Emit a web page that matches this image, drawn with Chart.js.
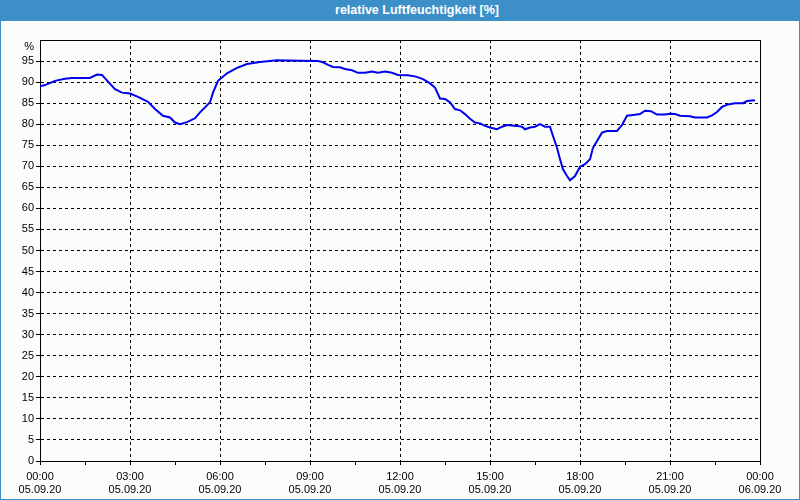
<!DOCTYPE html>
<html>
<head>
<meta charset="utf-8">
<script src="https://cdn.jsdelivr.net/npm/chart.js@4/dist/chart.umd.min.js"></script>
<style>
  html, body { margin:0; padding:0; }
  body { width:800px; height:500px; background:#fbfdfb; position:relative; overflow:hidden;
         font-family:"Liberation Sans", Arial, sans-serif; }
  #wrap { position:absolute; left:0; top:0; width:800px; height:500px; }
  #bar { position:absolute; left:0; top:0; width:800px; height:21px; background:#3d8fc7;
         color:#fff; font-weight:bold; font-size:12.5px; line-height:21px; }
  #bar span { position:absolute; left:417px; transform:translateX(-50%); white-space:nowrap; }
  #frame { position:absolute; left:0; top:0; width:798px; height:498px;
           border:1px solid #3d8fc7; pointer-events:none; }
</style>
</head>
<body>
<div id="wrap"><canvas id="chart"></canvas></div>
<div id="bar"><span>relative Luftfeuchtigkeit [%]</span></div>
<div id="frame"></div>
<script>
/* Daten: Minuten seit 05.09.20 00:00 und rel. Feuchte in % */
const minutes = [
  0, 10, 30, 50, 64, 100, 114, 124, 136, 150, 164, 180, 196, 216, 230, 246,
  260, 270, 280, 294, 310, 320, 330, 340, 346, 356, 374, 394, 414, 440, 474, 520,
  556, 566, 576, 586, 600, 610, 624, 636, 650, 664, 676, 690, 704, 716, 736, 752,
  766, 780, 790, 800, 810, 820, 830, 840, 850, 860, 870, 880, 890, 900, 914, 924,
  934, 954, 964, 970, 980, 990, 1000, 1010, 1020, 1026, 1034, 1040, 1046, 1054, 1060, 1070,
  1080, 1090, 1100, 1106, 1114, 1124, 1134, 1154, 1164, 1174, 1186, 1200, 1210, 1222, 1234, 1250,
  1260, 1270, 1280, 1300, 1310, 1334, 1344, 1354, 1364, 1376, 1390, 1406, 1414, 1430
];
const humidity = [
  89.0, 89.3, 90.3, 90.8, 91.0, 91.0, 91.8, 91.7, 90.1, 88.3, 87.5, 87.3, 86.5, 85.3, 83.6, 82.0,
  81.6, 80.4, 80.0, 80.5, 81.4, 82.8, 84.0, 85.2, 87.5, 90.3, 92.1, 93.4, 94.3, 94.8, 95.2, 95.1,
  95.0, 94.7, 94.1, 93.6, 93.5, 93.1, 92.8, 92.2, 92.2, 92.5, 92.2, 92.5, 92.2, 91.7, 91.6, 91.3,
  90.7, 89.7, 88.7, 86.1, 86.0, 85.2, 83.6, 83.3, 82.4, 81.3, 80.4, 80.2, 79.6, 79.2, 78.8, 79.4,
  79.8, 79.6, 79.4, 78.8, 79.2, 79.4, 80.0, 79.4, 79.4, 77.2, 74.4, 71.7, 69.3, 67.7, 66.7, 67.7,
  69.9, 70.5, 71.7, 74.4, 76.0, 78.0, 78.4, 78.4, 79.8, 82.0, 82.2, 82.4, 83.2, 83.1, 82.3, 82.3,
  82.5, 82.4, 82.0, 81.9, 81.6, 81.6, 82.1, 82.9, 84.1, 84.7, 85.0, 85.0, 85.5, 85.7
];

/* Achsenbeschriftung */
const tickTimes = ["00:00","03:00","06:00","09:00","12:00","15:00","18:00","21:00","00:00"];
const tickDates = ["05.09.20","05.09.20","05.09.20","05.09.20","05.09.20","05.09.20","05.09.20","05.09.20","06.09.20"];
const yUnit = "%";

Chart.defaults.font.family = '"Liberation Sans", Arial, sans-serif';
Chart.defaults.font.size = 11;
Chart.defaults.color = '#000';

// Rahmen um die Zeichenfläche
const frame = {
  id: 'frame',
  beforeDatasetsDraw(chart){
    const {ctx, chartArea:a} = chart;
    ctx.save();
    ctx.strokeStyle = '#000';
    ctx.lineWidth = 1;
    ctx.strokeRect(Math.round(a.left)+0.5, Math.round(a.top)+0.5,
                   Math.round(a.right-a.left), Math.round(a.bottom-a.top));
    ctx.restore();
  }
};

new Chart(document.getElementById('chart'), {
  type: 'line',
  data: {
    datasets: [{
      data: minutes.map((m,i) => ({x:m, y:humidity[i]})),
      borderColor: '#0000ee',
      borderWidth: 2,
      pointRadius: 0,
      tension: 0,
      fill: false
    }]
  },
  options: {
    responsive: true,
    maintainAspectRatio: false,
    animation: false,
    events: [],
    layout: { padding: { top:40, right:40, left:0, bottom:0 } },
    plugins: { legend:{display:false}, tooltip:{enabled:false}, title:{display:false} },
    scales: {
      x: {
        type: 'linear',
        min: 0, max: 1440,
        afterFit: s => { s.height = 39; },
        ticks: {
          stepSize: 90, autoSkip: false, maxRotation: 0, padding: 5,
          callback: v => v % 180 === 0 ? [tickTimes[v/180], tickDates[v/180]] : ''
        },
        grid: {
          color: c => (c.tick && c.tick.value % 180 === 0 && c.tick.value > 0 && c.tick.value < 1440) ? '#000' : 'rgba(0,0,0,0)',
          tickColor: '#000',
          tickLength: 4
        },
        border: { display:true, color:'#000', dash:[3,3] }
      },
      y: {
        min: 0, max: 100,
        afterFit: s => { s.width = 40; },
        ticks: {
          stepSize: 5, padding: 2, autoSkip: false,
          // Einheit etwas unter der Oberkante, wie im Original
          callback: v => v === 100 ? ['', yUnit] : String(v)
        },
        grid: {
          color: c => (c.tick && c.tick.value > 0 && c.tick.value < 100) ? '#000' : 'rgba(0,0,0,0)',
          tickColor: c => (c.tick && c.tick.value === 100) ? 'rgba(0,0,0,0)' : '#000',
          tickLength: 4
        },
        border: { display:true, color:'#000', dash:[3,3] }
      }
    }
  },
  plugins: [frame]
});
</script>
</body>
</html>
